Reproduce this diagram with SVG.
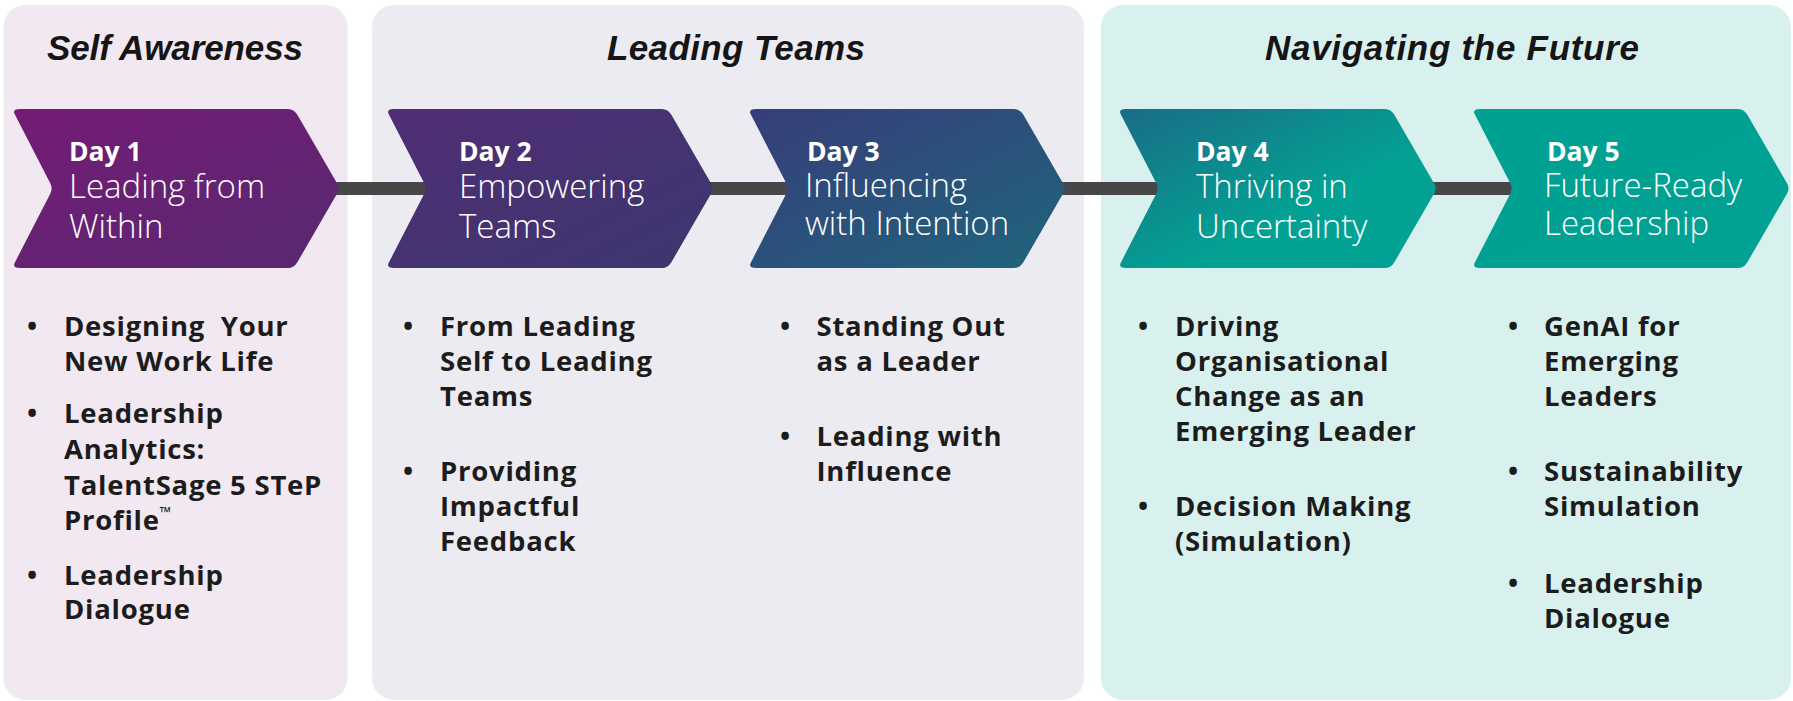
<svg xmlns="http://www.w3.org/2000/svg" width="1793" height="701" viewBox="0 0 1793 701">
<defs>
<linearGradient id="g1" x1="0" y1="0" x2="1" y2="1"><stop offset="0" stop-color="#741b76"/><stop offset="1" stop-color="#58296f"/></linearGradient>
<linearGradient id="g2" x1="0" y1="0" x2="1" y2="1"><stop offset="0" stop-color="#502d74"/><stop offset="1" stop-color="#3c376f"/></linearGradient>
<linearGradient id="g3" x1="0" y1="0" x2="1" y2="1"><stop offset="0" stop-color="#373d79"/><stop offset="1" stop-color="#1f657c"/></linearGradient>
<linearGradient id="g4" x1="0" y1="0" x2="1" y2="1"><stop offset="0" stop-color="#1a6c85"/><stop offset="0.6" stop-color="#03a194"/><stop offset="1" stop-color="#00a294"/></linearGradient>
<linearGradient id="g5" x1="0" y1="0" x2="1" y2="1"><stop offset="0" stop-color="#00a092"/><stop offset="1" stop-color="#00a294"/></linearGradient>
</defs>
<style>
.sec{font-family:"Liberation Sans",Arial,sans-serif;font-weight:bold;font-style:italic;font-size:35px;fill:#151515;text-anchor:middle}
.day{font-family:"Open Sans","Noto Sans",sans-serif;font-weight:700;font-size:26.5px;fill:#ffffff}
.ttl{font-family:"Open Sans","Noto Sans",sans-serif;font-weight:300;font-size:33px;fill:#ffffff}
.bl{font-family:"Open Sans","Noto Sans",sans-serif;font-weight:700;font-size:27.5px;letter-spacing:0.75px;fill:#1c1c1c}
.dot{font-family:"Open Sans","Noto Sans",sans-serif;font-weight:700;font-size:27px;fill:#1c1c1c;text-anchor:middle}
.conn{stroke:#474747;stroke-width:13;fill:none}
</style>
<g id="panels">
<rect id="panel-self" x="3.5" y="5" width="344" height="695" rx="22" fill="#f2e8f1"/>
<rect id="panel-teams" x="372" y="5" width="712" height="695" rx="22" fill="#ecebf1"/>
<rect id="panel-future" x="1101" y="5" width="690" height="695" rx="22" fill="#d9f1ee"/>
<text class="sec" x="175" y="60" textLength="256" lengthAdjust="spacing">Self Awareness</text>
<text class="sec" x="736" y="60" textLength="258" lengthAdjust="spacing">Leading Teams</text>
<text class="sec" x="1452" y="60" textLength="374" lengthAdjust="spacing">Navigating the Future</text>
</g>
<g id="connectors">
<line class="conn" x1="335" y1="188.5" x2="432" y2="188.5"/>
<line class="conn" x1="709" y1="188.5" x2="794" y2="188.5"/>
<line class="conn" x1="1061" y1="188.5" x2="1164" y2="188.5"/>
<line class="conn" x1="1432" y1="188.5" x2="1518" y2="188.5"/>
</g>
<g id="day1">
<path fill="url(#g1)" d="M20,109 L288,109 Q294,109 297.5,115 L337,183.3 Q340,188.5 337,193.7 L297.5,262 Q294,268 288,268 L20,268 Q12,268 14.75,262.7 L50.25,193.8 Q53,188.5 50.25,183.2 L14.75,114.3 Q12,109 20,109 Z"/>
<text class="day" x="69" y="160.5">Day 1</text>
<text class="ttl" x="69" y="198">Leading from</text>
<text class="ttl" x="69" y="238">Within</text>
<text class="dot" x="32" y="336">•</text>
<text class="bl" x="64" y="336">Designing&#160; Your</text>
<text class="bl" x="64" y="370.5">New Work Life</text>
<text class="dot" x="32" y="423">•</text>
<text class="bl" x="64" y="423">Leadership</text>
<text class="bl" x="64" y="459">Analytics:</text>
<text class="bl" x="64" y="495">TalentSage 5 STeP</text>
<text class="bl" x="64" y="530">Profile<tspan font-size="15" dy="-12" letter-spacing="0">™</tspan></text>
<text class="dot" x="32" y="585">•</text>
<text class="bl" x="64" y="585">Leadership</text>
<text class="bl" x="64" y="619">Dialogue</text>
</g>
<g id="day2">
<path fill="url(#g2)" d="M394,109 L662,109 Q668,109 671.5,115 L711,183.3 Q714,188.5 711,193.7 L671.5,262 Q668,268 662,268 L394,268 Q386,268 388.75,262.7 L424.25,193.8 Q427,188.5 424.25,183.2 L388.75,114.3 Q386,109 394,109 Z"/>
<text class="day" x="459" y="160.5">Day 2</text>
<text class="ttl" x="459" y="198">Empowering</text>
<text class="ttl" x="459" y="238">Teams</text>
<text class="dot" x="408" y="336">•</text>
<text class="bl" x="440" y="336">From Leading</text>
<text class="bl" x="440" y="371">Self to Leading</text>
<text class="bl" x="440" y="406">Teams</text>
<text class="dot" x="408" y="481">•</text>
<text class="bl" x="440" y="481">Providing</text>
<text class="bl" x="440" y="516">Impactful</text>
<text class="bl" x="440" y="551">Feedback</text>
</g>
<g id="day3">
<path fill="url(#g3)" d="M756,109 L1014,109 Q1020,109 1023.5,115 L1063,183.3 Q1066,188.5 1063,193.7 L1023.5,262 Q1020,268 1014,268 L756,268 Q748,268 750.75,262.7 L786.25,193.8 Q789,188.5 786.25,183.2 L750.75,114.3 Q748,109 756,109 Z"/>
<text class="day" x="807" y="161">Day 3</text>
<text class="ttl" x="805" y="197">Influencing</text>
<text class="ttl" x="805" y="235">with Intention</text>
<text class="dot" x="785" y="336">•</text>
<text class="bl" x="816.5" y="336">Standing Out</text>
<text class="bl" x="816.5" y="371">as a Leader</text>
<text class="dot" x="785" y="446">•</text>
<text class="bl" x="816.5" y="446">Leading with</text>
<text class="bl" x="816.5" y="481">Influence</text>
</g>
<g id="day4">
<path fill="url(#g4)" d="M1126,109 L1385,109 Q1391,109 1394.5,115 L1434,183.3 Q1437,188.5 1434,193.7 L1394.5,262 Q1391,268 1385,268 L1126,268 Q1118,268 1120.75,262.7 L1156.25,193.8 Q1159,188.5 1156.25,183.2 L1120.75,114.3 Q1118,109 1126,109 Z"/>
<text class="day" x="1196" y="160.5">Day 4</text>
<text class="ttl" x="1196" y="198">Thriving in</text>
<text class="ttl" x="1196" y="238">Uncertainty</text>
<text class="dot" x="1143" y="336">•</text>
<text class="bl" x="1175" y="336">Driving</text>
<text class="bl" x="1175" y="371">Organisational</text>
<text class="bl" x="1175" y="406">Change as an</text>
<text class="bl" x="1175" y="441">Emerging Leader</text>
<text class="dot" x="1143" y="516">•</text>
<text class="bl" x="1175" y="516">Decision Making</text>
<text class="bl" x="1175" y="551">(Simulation)</text>
</g>
<g id="day5">
<path fill="url(#g5)" d="M1480,109 L1738,109 Q1744,109 1747.5,115 L1787,183.3 Q1790,188.5 1787,193.7 L1747.5,262 Q1744,268 1738,268 L1480,268 Q1472,268 1474.75,262.7 L1510.25,193.8 Q1513,188.5 1510.25,183.2 L1474.75,114.3 Q1472,109 1480,109 Z"/>
<text class="day" x="1547" y="161">Day 5</text>
<text class="ttl" x="1544" y="197">Future-Ready</text>
<text class="ttl" x="1544" y="235">Leadership</text>
<text class="dot" x="1513" y="336">•</text>
<text class="bl" x="1544" y="336">GenAI for</text>
<text class="bl" x="1544" y="371">Emerging</text>
<text class="bl" x="1544" y="406">Leaders</text>
<text class="dot" x="1513" y="481">•</text>
<text class="bl" x="1544" y="481">Sustainability</text>
<text class="bl" x="1544" y="516">Simulation</text>
<text class="dot" x="1513" y="593">•</text>
<text class="bl" x="1544" y="593">Leadership</text>
<text class="bl" x="1544" y="628">Dialogue</text>
</g>
</svg>
